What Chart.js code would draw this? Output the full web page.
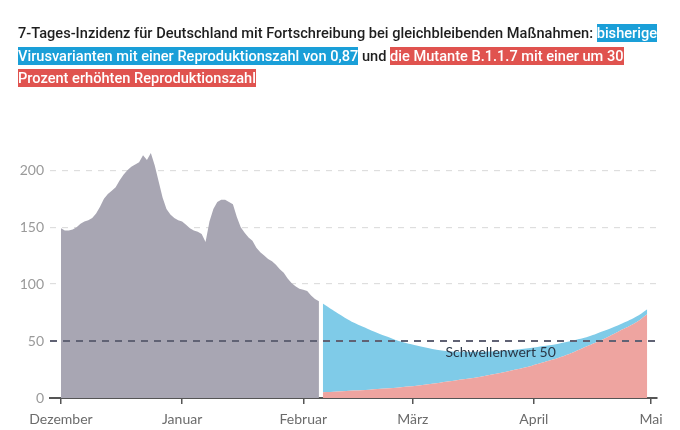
<!DOCTYPE html>
<html><head><meta charset="utf-8">
<script src="https://cdn.jsdelivr.net/npm/chart.js@4.4.0/dist/chart.umd.min.js"></script>
<style>
html,body{margin:0;padding:0;background:#fff;width:680px;height:430px;overflow:hidden}
#wrap{position:absolute;left:0;top:0;width:680px;height:430px}
#title{position:absolute;left:18px;top:22px;font-family:Roboto,sans-serif;font-weight:500;font-size:14.6px;line-height:22.7px;color:#1e1e1e;white-space:nowrap}
.b{background:#1a9fd8;color:#fff}
.r{background:#e0534f;color:#fff}
</style></head><body>
<div id="wrap"><canvas id="c" width="680" height="430"></canvas></div>
<div id="title">7-Tages-Inzidenz für Deutschland mit Fortschreibung bei gleichbleibenden Maßnahmen: <span class="b">bisherige</span><br><span class="b">Virusvarianten mit einer Reproduktionszahl von 0,87</span> und <span class="r">die Mutante B.1.1.7 mit einer um 30</span><br><span class="r">Prozent erhöhten Reproduktionszahl</span></div>
<script>
// Tage ab 1. Dezember (Tag 0)
const monatTage = [0, 31, 62, 90, 121, 151];
const monatNamen = ['Dezember', 'Januar', 'Februar', 'März', 'April', 'Mai'];
const yTicks = [0, 50, 100, 150, 200];
const schwelle = 50;
const schwelleLabel = 'Schwellenwert 50';

// gemessene 7-Tages-Inzidenz, Tag 0 bis 66
const inzidenz = [149,147,147,148,150,153,155,156,158,162,168,175,179,182,185,191,196,200,203,205,207,213,209,215,204,190,176,166,161,158,156,155,152,149,147,146,144,137,155,166,172,174,174,172,170,159,150,145,141,138,132,128,125,122,120,117,113,110,105,101,98,96,95,94,90,87,85];

// Fortschreibung
const progTage   = [67,71,75,79,83,87,91,95,99,103,107,111,115,119,123,127,131,135,139,143,147,150];
const mutante    = [5,5.7,6.5,7.3,8.3,9.5,10.8,12.5,14.5,16.5,18.5,21,24,27,31,35,40,46,52,59,66,73.5];
const gesamt     = [83,74,66,60,54.5,49.5,46,43,41,40.5,40.5,41,42,43.5,45.5,47.5,50.5,54,59,64.5,71,78];

const histData = inzidenz.map((v, i) => ({x: i, y: v}));
const mutData = progTage.map((d, i) => ({x: d, y: mutante[i]}));
const gesData = progTage.map((d, i) => ({x: d, y: gesamt[i]}));

const schwellePlugin = {
  id: 'schwelle',
  afterDatasetsDraw(chart) {
    const {ctx, chartArea, scales} = chart;
    const y = scales.y.getPixelForValue(schwelle);
    ctx.save();
    ctx.beginPath();
    ctx.setLineDash([7, 6]);
    ctx.strokeStyle = '#606274';
    ctx.lineWidth = 2;
    ctx.moveTo(chartArea.left, y);
    ctx.lineTo(chartArea.right, y);
    ctx.stroke();
    ctx.setLineDash([]);
    ctx.fillStyle = '#2a3646';
    ctx.font = '14px Lato, sans-serif';
    ctx.textAlign = 'center';
    ctx.textBaseline = 'middle';
    ctx.fillText(schwelleLabel, scales.x.getPixelForValue(112.5), y + 11);
    ctx.restore();
  }
};

new Chart(document.getElementById('c'), {
  type: 'line',
  data: {
    datasets: [
      {data: histData, fill: 'origin', backgroundColor: '#a8a6b3', borderWidth: 0, pointRadius: 0, tension: 0},
      {data: mutData, fill: 'origin', backgroundColor: '#eea4a0', borderWidth: 0, pointRadius: 0, tension: 0.4},
      {data: gesData, fill: 1, backgroundColor: '#7fcbe8', borderWidth: 0, pointRadius: 0, tension: 0.4}
    ]
  },
  options: {
    responsive: false,
    animation: false,
    events: [],
    layout: {padding: {top: 136, right: 23, left: 0, bottom: 0}},
    plugins: {legend: {display: false}, tooltip: {enabled: false}},
    scales: {
      x: {
        type: 'linear', min: -2.8, max: 152.5,
        afterBuildTicks: s => { s.ticks = monatTage.map(v => ({value: v})); },
        afterFit: s => { s.height = 32; },
        ticks: {
          autoSkip: false, maxRotation: 0, color: '#6b6b6b', padding: 7,
          font: {family: 'Lato', size: 14},
          callback: v => monatNamen[monatTage.indexOf(v)]
        },
        grid: {drawOnChartArea: false, drawTicks: true, tickLength: 6, color: '#555', lineWidth: 1.5},
        border: {display: true, color: '#555', width: 2}
      },
      y: {
        min: 0, max: 230,
        afterBuildTicks: s => { s.ticks = yTicks.map(v => ({value: v})); },
        afterFit: s => { s.width = 50; },
        ticks: {color: '#9a9a9a', padding: 6, font: {family: 'Lato', size: 14}},
        grid: {
          drawTicks: false,
          color: c => (c.tick && (c.tick.value === 0 || c.tick.value === schwelle)) ? 'rgba(0,0,0,0)' : '#dedede',
          lineWidth: 1.2
        },
        border: {display: false, dash: [6, 6]}
      }
    }
  },
  plugins: [schwellePlugin]
});
</script>
</body></html>
